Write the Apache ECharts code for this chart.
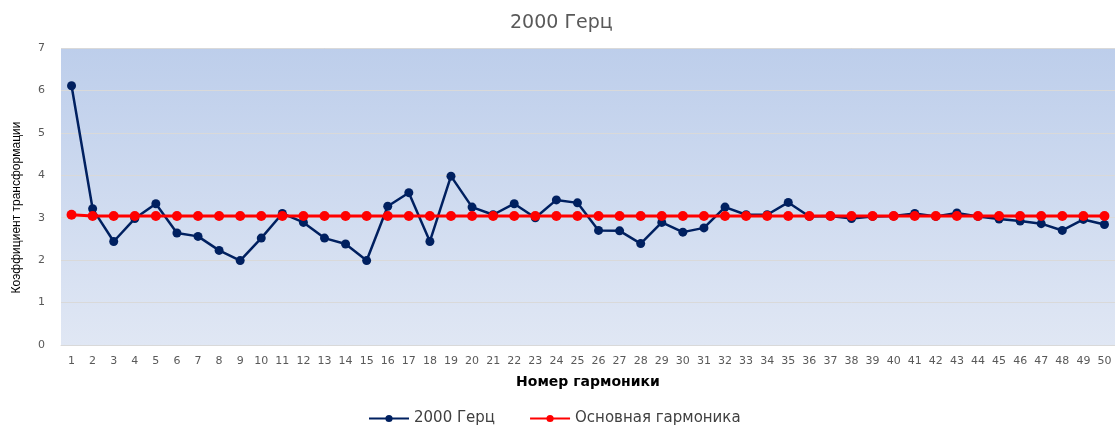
<!DOCTYPE html>
<html>
<head>
<meta charset="utf-8">
<script src="https://cdn.jsdelivr.net/npm/echarts@6/dist/echarts.min.js"></script>
<style>
  html, body { margin: 0; padding: 0; background: #ffffff; }
  #chart { width: 1115px; height: 425px; }
</style>
</head>
<body>
<div id="chart"></div>
<script>
// Harmonic numbers 1..50
const harmonics = [
  '1','2','3','4','5','6','7','8','9','10',
  '11','12','13','14','15','16','17','18','19','20',
  '21','22','23','24','25','26','27','28','29','30',
  '31','32','33','34','35','36','37','38','39','40',
  '41','42','43','44','45','46','47','48','49','50'
];

// Transformation ratio measured at 2000 Hz
const ratio2000 = [
  6.11, 3.21, 2.44, 2.98, 3.33, 2.64, 2.56, 2.23, 1.99, 2.52,
  3.10, 2.89, 2.52, 2.38, 1.99, 3.27, 3.59, 2.44, 3.98, 3.25,
  3.07, 3.33, 3.00, 3.42, 3.35, 2.70, 2.69, 2.39, 2.89, 2.66,
  2.76, 3.25, 3.07, 3.07, 3.36, 3.03, 3.04, 2.98, 3.03, 3.04,
  3.10, 3.03, 3.11, 3.03, 2.97, 2.92, 2.86, 2.70, 2.96, 2.84
];

// Transformation ratio of the fundamental harmonic
const ratioFundamental = [
  3.07, 3.04, 3.04, 3.04, 3.04, 3.04, 3.04, 3.04, 3.04, 3.04,
  3.04, 3.04, 3.04, 3.04, 3.04, 3.04, 3.04, 3.04, 3.04, 3.04,
  3.04, 3.04, 3.04, 3.04, 3.04, 3.04, 3.04, 3.04, 3.04, 3.04,
  3.04, 3.04, 3.04, 3.04, 3.04, 3.04, 3.04, 3.04, 3.04, 3.04,
  3.04, 3.04, 3.04, 3.04, 3.04, 3.04, 3.04, 3.04, 3.04, 3.04
];

const seriesNames = ['2000 Герц', 'Основная гармоника'];

const chart = echarts.init(document.getElementById('chart'), null, { renderer: 'canvas' });

const font = "'DejaVu Sans', 'Noto Sans', sans-serif";

chart.setOption({
  animation: false,
  textStyle: { fontFamily: font },
  title: {
    text: '2000 Герц',
    left: 505,
    top: 9,
    textStyle: { fontFamily: font, fontSize: 19, fontWeight: 'normal', color: '#595959' }
  },
  legend: {
    data: seriesNames,
    top: 406,
    left: 363,
    itemWidth: 40,
    itemHeight: 9,
    itemGap: 34,
    textStyle: { fontFamily: font, fontSize: 15, color: '#404040' }
  },
  grid: {
    left: 61,
    right: -1,
    top: 48,
    bottom: 80,
    show: true,
    borderWidth: 0,
    backgroundColor: new echarts.graphic.LinearGradient(0, 0, 0, 1, [
      { offset: 0, color: '#bdceeb' },
      { offset: 1, color: '#e0e7f4' }
    ])
  },
  xAxis: {
    type: 'category',
    data: harmonics,
    boundaryGap: true,
    name: 'Номер гармоники',
    nameLocation: 'middle',
    nameGap: 30,
    nameTextStyle: { fontFamily: font, fontSize: 14, fontWeight: 'bold', color: '#000000' },
    axisLine: { lineStyle: { color: '#d9d9d9', width: 1 } },
    axisTick: { show: false },
    axisLabel: { interval: 0, fontSize: 11, color: '#595959', margin: 11, fontFamily: font }
  },
  yAxis: {
    type: 'value',
    min: 0,
    max: 7,
    interval: 1,
    name: 'Коэффициент трансформации',
    nameLocation: 'middle',
    nameGap: 38,
    nameTextStyle: {
      fontFamily: "'Liberation Sans Narrow', 'Liberation Sans', sans-serif",
      fontSize: 12, color: '#000000', padding: [0, 22, 0, 0]
    },
    axisLine: { show: false },
    axisTick: { show: false },
    axisLabel: { fontSize: 11, color: '#595959', margin: 16, fontFamily: font },
    splitLine: { lineStyle: { color: '#d9d9d9', width: 1 } }
  },
  series: [
    {
      name: seriesNames[0],
      type: 'line',
      data: ratio2000,
      symbol: 'circle',
      symbolSize: 9,
      z: 2,
      lineStyle: { color: '#002060', width: 2.5 },
      itemStyle: { color: '#002060' }
    },
    {
      name: seriesNames[1],
      type: 'line',
      data: ratioFundamental,
      symbol: 'circle',
      symbolSize: 10,
      z: 3,
      lineStyle: { color: '#ff0000', width: 3 },
      itemStyle: { color: '#ff0000' }
    }
  ]
});
</script>
</body>
</html>
